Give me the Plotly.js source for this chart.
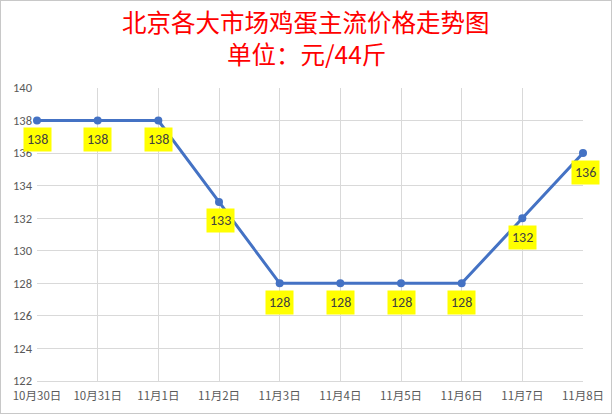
<!DOCTYPE html>
<html><head><meta charset="utf-8">
<script src="https://cdn.plot.ly/plotly-3.0.1.min.js"></script>
<style>
html,body{margin:0;padding:0;background:#fff;}
#wrap{position:relative;width:612px;height:414px;}
#frame{position:absolute;left:0;top:0;width:612px;height:414px;box-sizing:border-box;border:1px solid #c8c8c8;pointer-events:none;}
</style></head>
<body>
<div id="wrap"><div id="chart" style="width:612px;height:414px;"></div><div id="frame"></div></div>
<script>
const categories = ['10月30日','10月31日','11月1日','11月2日','11月3日','11月4日','11月5日','11月6日','11月7日','11月8日'];
const prices = [138,138,138,133,128,128,128,128,132,136];
const yTicks = [122,124,126,128,130,132,134,136,138,140];
const titleLine1 = '北京各大市场鸡蛋主流价格走势图';
const titleLine2 = '单位：元/44斤';

const annotations = categories.map((c,i)=>({
  x: i, y: prices[i], xref:'x', yref:'y',
  text: String(prices[i]), showarrow:false, yshift:-19, xshift: (i===9?2:(i===3?1:0)),
  bgcolor:'#FFFF00', borderpad:3,
  font:{family:'Calibri, Liberation Sans, Arial, sans-serif', size:14, color:'#404040'}
}));
annotations.push({
  xref:'paper', yref:'paper', x:0.4927, y:1, yshift:67, xanchor:'center', yanchor:'middle',
  showarrow:false, text:titleLine1,
  font:{family:'Noto Sans CJK SC, sans-serif', size:24.5, color:'#FF0000'}
});
annotations.push({
  xref:'paper', yref:'paper', x:0.4927, y:1, yshift:35, xanchor:'center', yanchor:'middle',
  showarrow:false, text:titleLine2,
  font:{family:'Noto Sans CJK SC, sans-serif', size:24.5, color:'#FF0000'}
});

const trace = {
  x: categories.map((c,i)=>i), y: prices, type:'scatter', mode:'lines+markers',
  line:{color:'#4472C4', width:3}, marker:{color:'#4472C4', size:8},
  cliponaxis:false, hoverinfo:'none'
};

const layout = {
  width:612, height:414,
  margin:{l:37, r:29, t:88, b:33},
  paper_bgcolor:'#fff', plot_bgcolor:'#fff',
  showlegend:false,
  xaxis:{
    range:[0,9], tickmode:'array', tickvals:categories.map((c,i)=>i), ticktext:categories,
    showgrid:true, gridcolor:'#d9d9d9', gridwidth:1, zeroline:false,
    showline:true, linecolor:'#d9d9d9', linewidth:1, ticks:'', ticklabelstandoff:4,
    tickfont:{family:'Microsoft YaHei, Noto Sans CJK SC, sans-serif', size:11.5, color:'#595959'},
    fixedrange:true
  },
  yaxis:{
    range:[122,140], tickmode:'array', tickvals:yTicks,
    showgrid:true, gridcolor:'#d9d9d9', gridwidth:1, zeroline:false,
    showline:false, ticks:'', ticklabelstandoff:4,
    tickfont:{family:'Calibri, Liberation Sans, Arial, sans-serif', size:12.5, color:'#595959'},
    fixedrange:true
  },
  annotations: annotations
};
Plotly.newPlot('chart',[trace],layout,{displayModeBar:false, staticPlot:true});
</script>
</body></html>
